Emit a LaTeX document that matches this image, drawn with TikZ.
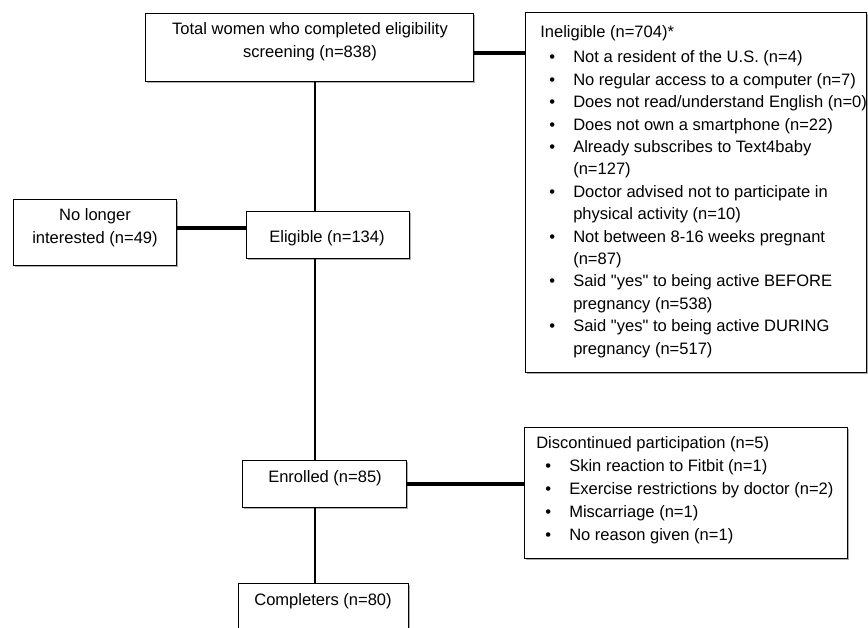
\documentclass[tikz,border=0pt]{standalone}
\usepackage{fontspec}
\setmainfont{Liberation Sans}[Ligatures=TeXOff]
\usetikzlibrary{shadows}

\newcommand{\bul}{\hspace*{6.8pt}\rlap{\textbullet}\hspace*{17.95pt}}
\newcommand{\cont}{\hspace*{24.75pt}}

\begin{document}
\begin{tikzpicture}[x=0.75pt, y=-0.75pt,
    box/.style={draw, line width=1pt, fill=white, anchor=north west, inner sep=0pt,
      drop shadow={shadow xshift=0.9pt, shadow yshift=-0.9pt, opacity=0.45, fill=black!70}},
    txt/.style={inner sep=0pt, font=\fontsize{12.4}{16.8}\selectfont},
    vline/.style={line width=2.2pt},
    hline/.style={line width=3pt}]
  \clip (0,0) rectangle (868,628);

  % Boxes
  \node[box, minimum width=246pt, minimum height=51pt] (total) at (145,13) {};
  \node[box, minimum width=255.75pt, minimum height=270pt] (inel) at (525,12) {};
  \node[box, minimum width=122.25pt, minimum height=49.5pt] (nolong) at (13,199) {};
  \node[box, minimum width=122.25pt, minimum height=35.25pt] (elig) at (246,211) {};
  \node[box, minimum width=123pt, minimum height=35.25pt] (enrol) at (242,460) {};
  \node[box, minimum width=242.25pt, minimum height=98.25pt] (disc) at (524,427) {};
  \node[box, minimum width=127.5pt, minimum height=45pt] (compl) at (238,583) {};

  % Connectors
  \coordinate (spine) at (315,0);
  \draw[vline] (total.south -| spine) -- (elig.north -| spine);
  \draw[vline] (elig.south -| spine) -- (enrol.north -| spine);
  \draw[vline] (enrol.south -| spine) -- (compl.north -| spine);
  \draw[hline] ([yshift=-3.75pt]total.east) -- ([yshift=-3.75pt]total.east -| inel.west);
  \draw[hline] ([yshift=3.75pt]nolong.east) -- ([yshift=3.75pt]nolong.east -| elig.west);
  \draw[hline] (enrol.east) -- (enrol.east -| disc.west);

  % Texts (multi-line nodes sit on their last baseline)
  \node[txt, anchor=base, align=center] (total-t) at (310,57)
    {Total women who completed eligibility\\screening (n=838)};
  \node[txt, anchor=base west, align=left] (inel-t) at (540,354)
    {Ineligible (n=704)*\\[2pt]
     \bul Not a resident of the U.S. (n=4)\\
     \bul No regular access to a computer (n=7)\\
     \bul Does not read/understand English (n=0)\\
     \bul Does not own a smartphone (n=22)\\
     \bul Already subscribes to Text4baby\\
     \cont (n=127)\\
     \bul Doctor advised not to participate in\\
     \cont physical activity (n=10)\\
     \bul Not between 8-16 weeks pregnant\\
     \cont (n=87)\\
     \bul Said "yes" to being active BEFORE\\
     \cont pregnancy (n=538)\\
     \bul Said "yes" to being active DURING\\
     \cont pregnancy (n=517)};
  \node[txt, anchor=base, align=center] (nolong-t) at (95,243)
    {No longer\\interested (n=49)};
  \node[txt, anchor=base] (elig-t) at (327,242) {Eligible (n=134)};
  \node[txt, anchor=base] (enrol-t) at (325,482) {Enrolled (n=85)};
  \node[txt, anchor=base] (compl-t) at (323,605) {Completers (n=80)};
  \node[txt, anchor=base west, align=left, font=\fontsize{12.4}{17.2}\selectfont] (disc-t) at (536,540)
    {Discontinued participation (n=5)\\
     \bul Skin reaction to Fitbit (n=1)\\
     \bul Exercise restrictions by doctor (n=2)\\
     \bul Miscarriage (n=1)\\
     \bul No reason given (n=1)};
\end{tikzpicture}
\end{document}
